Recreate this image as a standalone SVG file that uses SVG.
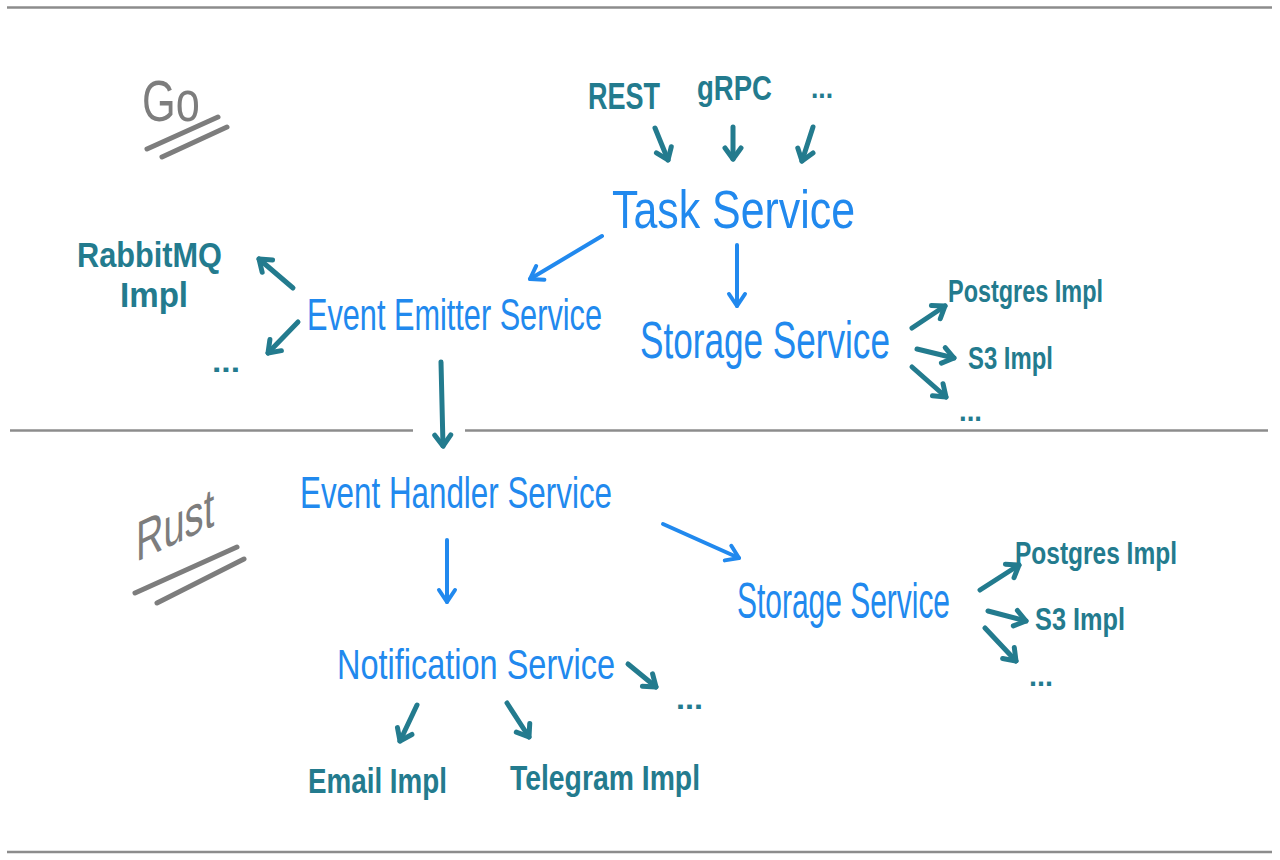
<svg xmlns="http://www.w3.org/2000/svg" width="1280" height="860" viewBox="0 0 1280 860">
<style>
.blue{fill:#2189ee;font-family:"Liberation Sans",Arial,sans-serif;}
.teal{fill:#237b8e;font-family:"Liberation Sans",Arial,sans-serif;font-weight:bold;}
.gray{fill:#7d7d7d;font-family:"Liberation Sans",Arial,sans-serif;}
.rule{stroke:#8c8c8c;stroke-width:2.5;fill:none;}
.ul{stroke:#7d7d7d;stroke-width:5;stroke-linecap:round;fill:none;}
.cb{stroke:#2189ee;stroke-width:4;stroke-linecap:round;fill:none;marker-end:url(#hb);}
.ct{stroke:#237b8e;stroke-width:5;stroke-linecap:round;fill:none;marker-end:url(#ht);}
</style>
<defs>
<marker id="hb" markerUnits="userSpaceOnUse" markerWidth="30" markerHeight="30" refX="0" refY="0" viewBox="-15 -15 30 30" orient="auto" overflow="visible">
<path d="M-12,-8 L0,0 L-12,8" fill="none" stroke="#2189ee" stroke-width="4" stroke-linecap="round" stroke-linejoin="round"/>
</marker>
<marker id="ht" markerUnits="userSpaceOnUse" markerWidth="30" markerHeight="30" refX="0" refY="0" viewBox="-15 -15 30 30" orient="auto" overflow="visible">
<path d="M-11,-8 L0,0 L-11,8" fill="none" stroke="#237b8e" stroke-width="5" stroke-linecap="round" stroke-linejoin="round"/>
</marker>
</defs>
<rect width="1280" height="860" fill="#ffffff"/>

<g id="rules">
<line class="rule" x1="7" y1="7.5" x2="1272" y2="7.5"/>
<line class="rule" x1="10" y1="430.5" x2="413" y2="430.5"/>
<line class="rule" x1="465" y1="430.5" x2="1268" y2="430.5"/>
<line class="rule" x1="7" y1="852" x2="1272" y2="852"/>
</g>

<g id="label-go">
<text class="gray" transform="translate(142,121) scale(0.75,1)" font-size="58" textLength="77" lengthAdjust="spacingAndGlyphs">Go</text>
<line class="ul" x1="147" y1="149" x2="218" y2="117"/>
<line class="ul" x1="162" y1="157" x2="227" y2="127"/>
</g>

<g id="label-rust">
<text class="gray" transform="translate(136,562) skewY(-25) scale(0.68,1)" font-size="56" textLength="115" lengthAdjust="spacingAndGlyphs">Rust</text>
<line class="ul" x1="135" y1="593" x2="237" y2="547"/>
<line class="ul" x1="157" y1="603" x2="244" y2="559"/>
</g>

<g id="connectors">
<line class="ct" x1="655" y1="128" x2="668" y2="160"/>
<line class="ct" x1="733" y1="127" x2="733" y2="159"/>
<line class="ct" x1="813" y1="127" x2="802" y2="161"/>
<line class="cb" x1="602" y1="236" x2="530" y2="279"/>
<line class="cb" x1="737" y1="245" x2="737" y2="306"/>
<line class="ct" x1="293" y1="288" x2="259" y2="259"/>
<line class="ct" x1="298" y1="322" x2="268" y2="353"/>
<line class="ct" x1="912" y1="328" x2="945" y2="306"/>
<line class="ct" x1="917" y1="349" x2="954" y2="358"/>
<line class="ct" x1="912" y1="367" x2="946" y2="397"/>
<line class="ct" x1="441" y1="362" x2="443" y2="446"/>
<line class="cb" x1="447" y1="540" x2="447" y2="602"/>
<line class="cb" x1="663" y1="524" x2="739" y2="558"/>
<line class="ct" x1="980" y1="590" x2="1019" y2="565"/>
<line class="ct" x1="988" y1="611" x2="1026" y2="621"/>
<line class="ct" x1="985" y1="628" x2="1016" y2="661"/>
<line class="ct" x1="628" y1="664" x2="656" y2="687"/>
<line class="ct" x1="417" y1="705" x2="400" y2="741"/>
<line class="ct" x1="507" y1="703" x2="529" y2="737"/>
</g>

<g id="node-rest"><text class="teal" transform="translate(588,109) scale(0.75,1)" font-size="36" textLength="96" lengthAdjust="spacingAndGlyphs">REST</text></g>
<g id="node-grpc"><text class="teal" transform="translate(697,100) scale(0.765,1)" font-size="36" textLength="98" lengthAdjust="spacingAndGlyphs">gRPC</text></g>
<g id="node-more-api"><text class="teal" x="811" y="98" font-size="30" textLength="22" lengthAdjust="spacingAndGlyphs">...</text></g>

<g id="node-task-service"><text class="blue" transform="translate(612,228) scale(0.78,1)" font-size="54" textLength="311.5" lengthAdjust="spacingAndGlyphs">Task Service</text></g>
<g id="node-event-emitter"><text class="blue" transform="translate(307,330) scale(0.697,1)" font-size="44" textLength="423.2" lengthAdjust="spacingAndGlyphs">Event Emitter Service</text></g>
<g id="node-storage-go"><text class="blue" transform="translate(640,358) scale(0.676,1)" font-size="52" textLength="369.8" lengthAdjust="spacingAndGlyphs">Storage Service</text></g>

<g id="node-rabbitmq"><text class="teal" transform="translate(77,267) scale(0.853,1)" font-size="36" textLength="170" lengthAdjust="spacingAndGlyphs">RabbitMQ</text>
<text class="teal" transform="translate(120,307) scale(0.92,1)" font-size="36" textLength="74" lengthAdjust="spacingAndGlyphs">Impl</text></g>
<g id="node-emitter-more"><text class="teal" x="212" y="372" font-size="30" textLength="28" lengthAdjust="spacingAndGlyphs">...</text></g>

<g id="node-postgres-go"><text class="teal" transform="translate(948,302) scale(0.756,1)" font-size="31" textLength="205" lengthAdjust="spacingAndGlyphs">Postgres Impl</text></g>
<g id="node-s3-go"><text class="teal" transform="translate(968,369) scale(0.77,1)" font-size="31" textLength="110.4" lengthAdjust="spacingAndGlyphs">S3 Impl</text></g>
<g id="node-storage-go-more"><text class="teal" x="959" y="421" font-size="30" textLength="23" lengthAdjust="spacingAndGlyphs">...</text></g>

<g id="node-event-handler"><text class="blue" transform="translate(300,508) scale(0.712,1)" font-size="44" textLength="438.2" lengthAdjust="spacingAndGlyphs">Event Handler Service</text></g>
<g id="node-storage-rust"><text class="blue" transform="translate(737,618) scale(0.6,1)" font-size="50" textLength="355" lengthAdjust="spacingAndGlyphs">Storage Service</text></g>
<g id="node-postgres-rust"><text class="teal" transform="translate(1015,564) scale(0.79,1)" font-size="31" textLength="205" lengthAdjust="spacingAndGlyphs">Postgres Impl</text></g>
<g id="node-s3-rust"><text class="teal" transform="translate(1035,630) scale(0.816,1)" font-size="31" textLength="110.3" lengthAdjust="spacingAndGlyphs">S3 Impl</text></g>
<g id="node-storage-rust-more"><text class="teal" x="1029" y="686" font-size="30" textLength="24" lengthAdjust="spacingAndGlyphs">...</text></g>

<g id="node-notification"><text class="blue" transform="translate(337,679) scale(0.774,1)" font-size="42" textLength="359.2" lengthAdjust="spacingAndGlyphs">Notification Service</text></g>
<g id="node-notification-more"><text class="teal" x="676" y="709" font-size="30" textLength="27" lengthAdjust="spacingAndGlyphs">...</text></g>
<g id="node-email"><text class="teal" transform="translate(308,793) scale(0.77,1)" font-size="36" textLength="180.5" lengthAdjust="spacingAndGlyphs">Email Impl</text></g>
<g id="node-telegram"><text class="teal" transform="translate(510,790) scale(0.78,1)" font-size="36" textLength="243.6" lengthAdjust="spacingAndGlyphs">Telegram Impl</text></g>
</svg>
